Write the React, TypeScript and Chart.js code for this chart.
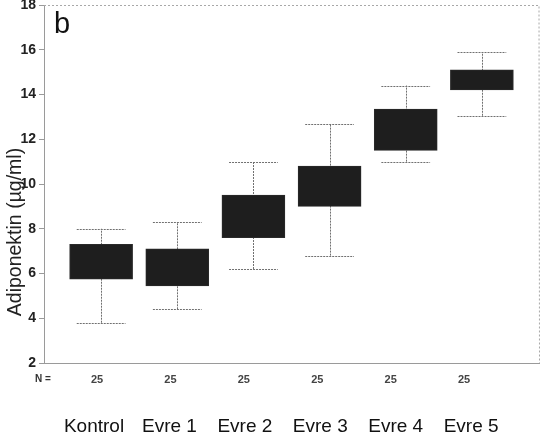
import React, { useEffect, useRef } from "react";
import { Chart, registerables } from "chart.js";

Chart.register(...registerables);

const categories = ["Kontrol", "Evre 1", "Evre 2", "Evre 3", "Evre 4", "Evre 5"];
const whiskerLow = [3.8, 4.4, 6.2, 6.8, 11.0, 13.05];
const q1 = [5.75, 5.45, 7.6, 9.0, 11.5, 14.2];
const q3 = [7.3, 7.1, 9.5, 10.8, 13.35, 15.1];
const whiskerHigh = [8.0, 8.3, 11.0, 12.7, 14.4, 15.9];
const nValues = [25, 25, 25, 25, 25, 25];
const yTicks = [2, 4, 6, 8, 10, 12, 14, 16, 18];
const yTitle = "Adiponektin (µg/ml)";
const panelLabel = "b";
const nLabel = "N =";

const FONT = "'Liberation Sans', Arial, sans-serif";

const whiskerPlugin = {
  id: "whiskers",
  beforeDatasetsDraw(chart: any) {
    const { ctx } = chart;
    const xs = chart.scales.x;
    const ys = chart.scales.y;
    const capHalf = 0.32;
    ctx.save();
    ctx.strokeStyle = "#707070";
    ctx.lineWidth = 1;
    ctx.setLineDash([2, 1]);
    categories.forEach((_, i) => {
      const cx = Math.round(xs.getPixelForValue(i)) + 0.5;
      const yl = ys.getPixelForValue(whiskerLow[i]);
      const yh = ys.getPixelForValue(whiskerHigh[i]);
      ctx.beginPath();
      ctx.moveTo(cx, yl);
      ctx.lineTo(cx, yh);
      ctx.stroke();
      const x0 = xs.getPixelForValue(i - capHalf);
      const x1 = xs.getPixelForValue(i + capHalf);
      [yl, yh].forEach((yy) => {
        const py = Math.round(yy) + 0.5;
        ctx.beginPath();
        ctx.moveTo(x0, py);
        ctx.lineTo(x1, py);
        ctx.stroke();
      });
    });
    ctx.restore();
  },
  afterDraw(chart: any) {
    const { ctx, chartArea } = chart;
    ctx.save();
    ctx.strokeStyle = "#a8a8a8";
    ctx.lineWidth = 1;
    ctx.setLineDash([2, 2]);
    ctx.beginPath();
    ctx.moveTo(chartArea.left, Math.round(chartArea.top) + 0.5);
    ctx.lineTo(chartArea.right, Math.round(chartArea.top) + 0.5);
    ctx.lineTo(Math.round(chartArea.right) + 0.5, chartArea.bottom);
    ctx.stroke();
    ctx.setLineDash([]);
    ctx.fillStyle = "#111";
    ctx.font = `29px ${FONT}`;
    ctx.textAlign = "left";
    ctx.textBaseline = "alphabetic";
    ctx.fillText(panelLabel, chartArea.left + 10, chartArea.top + 28);
    ctx.font = `bold 10px ${FONT}`;
    ctx.fillStyle = "#333";
    ctx.textBaseline = "middle";
    ctx.fillText(nLabel, 35, chart.scales.xN.top + 16);
    ctx.translate(16, (chartArea.top + chartArea.bottom) / 2 + 48);
    ctx.rotate(-Math.PI / 2);
    ctx.font = `19.5px ${FONT}`;
    ctx.fillStyle = "#222";
    ctx.textAlign = "center";
    ctx.textBaseline = "middle";
    ctx.fillText(yTitle, 0, 0);
    ctx.restore();
  },
};

export default function App() {
  const ref = useRef<HTMLCanvasElement | null>(null);
  useEffect(() => {
    if (!ref.current) return;
    const chart = new Chart(ref.current, {
      type: "bar",
      data: {
        datasets: [
          {
            data: categories.map((_, i) => ({ x: i, y: [q1[i], q3[i]] })) as any,
            backgroundColor: "#1e1e1e",
            borderColor: "#2a2a2a",
            borderWidth: 1,
            borderSkipped: false,
            barThickness: 63,
          },
        ],
      },
      options: {
        animation: false,
        responsive: false,
        maintainAspectRatio: false,
        layout: { padding: { left: 0, right: 6, top: 5, bottom: 0 } },
        plugins: { legend: { display: false }, tooltip: { enabled: false } },
        scales: {
          x: {
            type: "linear",
            position: "bottom",
            weight: 0,
            offset: false,
            min: -0.75,
            max: 5.75,
            grid: { display: false, offset: false },
            ticks: { display: false },
            border: { display: true, color: "#9a9a9a", width: 1, dash: [2, 1] },
            afterFit: (s: any) => {
              s.height = 0;
              s.paddingLeft = 0;
              s.paddingRight = 0;
            },
          },
          xN: {
            type: "linear",
            position: "bottom",
            weight: 1,
            offset: false,
            min: -0.722,
            max: 6.02,
            grid: { display: false, offset: false },
            border: { display: false },
            afterBuildTicks: (s: any) => {
              s.ticks = nValues.map((_, i) => ({ value: i }));
            },
            ticks: {
              autoSkip: false,
              maxRotation: 0,
              padding: 2,
              color: "#444",
              font: { family: FONT, size: 11, weight: "bold" },
              callback: (v: any) => String(nValues[v as number] ?? ""),
            },
            afterFit: (s: any) => {
              s.height = 30;
              s.paddingLeft = 0;
              s.paddingRight = 0;
            },
          },
          xCat: {
            type: "linear",
            position: "bottom",
            weight: 2,
            offset: false,
            min: -0.663,
            max: 5.9,
            grid: { display: false, offset: false },
            border: { display: false },
            afterBuildTicks: (s: any) => {
              s.ticks = categories.map((_, i) => ({ value: i }));
            },
            ticks: {
              autoSkip: false,
              maxRotation: 0,
              padding: 14,
              color: "#111",
              font: { family: FONT, size: 19 },
              callback: (v: any) => categories[v as number] ?? "",
            },
            afterFit: (s: any) => {
              s.height = 51;
              s.paddingLeft = 0;
              s.paddingRight = 0;
            },
          },
          y: {
            type: "linear",
            min: 2,
            max: 18,
            afterBuildTicks: (s: any) => {
              s.ticks = yTicks.map((v) => ({ value: v }));
            },
            grid: {
              display: true,
              drawOnChartArea: false,
              drawTicks: true,
              tickLength: 5,
              color: "#9a9a9a",
            },
            border: { display: true, color: "#9a9a9a", width: 1 },
            ticks: {
              padding: 3,
              color: "#222",
              font: { family: FONT, size: 14, weight: "bold" },
            },
            afterFit: (s: any) => {
              s.width = 44;
              s.paddingTop = 0;
              s.paddingBottom = 0;
            },
          },
        },
      },
      plugins: [whiskerPlugin],
    });
    return () => chart.destroy();
  }, []);
  return (
    <div style={{ position: "fixed", left: 0, top: 0, width: 545, height: 444, background: "#fff" }}>
      <canvas ref={ref} width={545} height={444} style={{ display: "block" }} />
    </div>
  );
}
